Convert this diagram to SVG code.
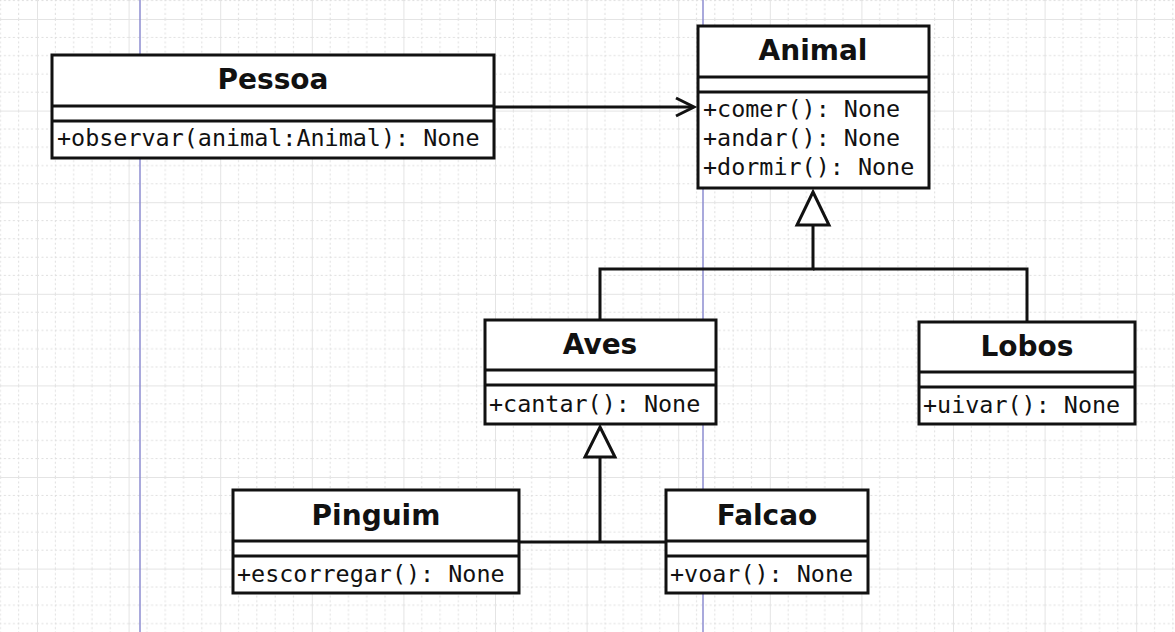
<svg xmlns="http://www.w3.org/2000/svg" width="1175" height="632" viewBox="0 0 1175 632">
<style>
.box{fill:#fff;stroke:#111;stroke-width:3}
.sep{stroke:#111;stroke-width:3}
.title{font-family:"DejaVu Sans","Liberation Sans",sans-serif;font-weight:bold;font-size:28px;fill:#111;text-anchor:middle}
.meth{font-family:"DejaVu Sans Mono","Liberation Mono",monospace;font-size:23.4px;fill:#111}
.conn{fill:none;stroke:#111;stroke-width:3}
.tri{fill:#fff;stroke:#111;stroke-width:3;stroke-linejoin:miter}
</style>
<defs>
<pattern id="grid" x="37" y="19" width="91.6" height="91.6" patternUnits="userSpaceOnUse">
<g stroke="#dedede" stroke-width="1" stroke-dasharray="2,2.5">
<line x1="18.32" y1="0" x2="18.32" y2="91.6"/>
<line x1="36.64" y1="0" x2="36.64" y2="91.6"/>
<line x1="54.96" y1="0" x2="54.96" y2="91.6"/>
<line x1="73.28" y1="0" x2="73.28" y2="91.6"/>
<line x1="0" y1="18.32" x2="91.6" y2="18.32"/>
<line x1="0" y1="36.64" x2="91.6" y2="36.64"/>
<line x1="0" y1="54.96" x2="91.6" y2="54.96"/>
<line x1="0" y1="73.28" x2="91.6" y2="73.28"/>
</g>
<g stroke="#e4e4e4" stroke-width="2">
<line x1="0" y1="0" x2="0" y2="91.6"/>
<line x1="0" y1="0" x2="91.6" y2="0"/>
</g>
</pattern>
</defs>
<rect width="1175" height="632" fill="#fff"/>
<rect width="1175" height="632" fill="url(#grid)"/>
<g id="page-breaks" stroke="#8c8cd0" stroke-width="1.5">
<line x1="140" y1="0" x2="140" y2="632"/>
<line x1="703" y1="0" x2="703" y2="632"/>
</g>
<g id="connectors">
<line class="conn" x1="494" y1="107" x2="693" y2="107"/>
<polyline class="conn" points="676,98 694,107 676,116"/>
<polyline class="conn" points="813,225 813,269 600,269 600,320"/>
<polyline class="conn" points="813,269 1027,269 1027,322"/>
<polygon class="tri" points="813,192 829,225 797,225"/>
<polyline class="conn" points="600,457 600,542"/>
<line class="conn" x1="519" y1="542" x2="666" y2="542"/>
<polygon class="tri" points="600,427 615,457 585,457"/>
</g>
<g id="Pessoa">
<rect class="box" x="52" y="55" width="442" height="103"/>
<line class="sep" x1="52" y1="106" x2="494" y2="106"/>
<line class="sep" x1="52" y1="121" x2="494" y2="121"/>
<text class="title" x="273" y="89">Pessoa</text>
<text class="meth" x="57" y="146">+observar(animal:Animal): None</text>
</g>
<g id="Animal">
<rect class="box" x="698" y="26" width="231" height="162"/>
<line class="sep" x1="698" y1="77" x2="929" y2="77"/>
<line class="sep" x1="698" y1="92" x2="929" y2="92"/>
<text class="title" x="813" y="60">Animal</text>
<text class="meth" x="703" y="117">+comer(): None</text>
<text class="meth" x="703" y="146">+andar(): None</text>
<text class="meth" x="703" y="175">+dormir(): None</text>
</g>
<g id="Aves">
<rect class="box" x="485" y="320" width="231" height="104"/>
<line class="sep" x1="485" y1="370" x2="716" y2="370"/>
<line class="sep" x1="485" y1="385" x2="716" y2="385"/>
<text class="title" x="600" y="354">Aves</text>
<text class="meth" x="489" y="412">+cantar(): None</text>
</g>
<g id="Lobos">
<rect class="box" x="919" y="322" width="216" height="102"/>
<line class="sep" x1="919" y1="372" x2="1135" y2="372"/>
<line class="sep" x1="919" y1="387" x2="1135" y2="387"/>
<text class="title" x="1027" y="356">Lobos</text>
<text class="meth" x="923" y="413">+uivar(): None</text>
</g>
<g id="Pinguim">
<rect class="box" x="233" y="490" width="286" height="103"/>
<line class="sep" x1="233" y1="541" x2="519" y2="541"/>
<line class="sep" x1="233" y1="556" x2="519" y2="556"/>
<text class="title" x="376" y="525">Pinguim</text>
<text class="meth" x="237" y="582">+escorregar(): None</text>
</g>
<g id="Falcao">
<rect class="box" x="666" y="490" width="202" height="103"/>
<line class="sep" x1="666" y1="541" x2="868" y2="541"/>
<line class="sep" x1="666" y1="556" x2="868" y2="556"/>
<text class="title" x="767" y="525">Falcao</text>
<text class="meth" x="670" y="582">+voar(): None</text>
</g>
</svg>
